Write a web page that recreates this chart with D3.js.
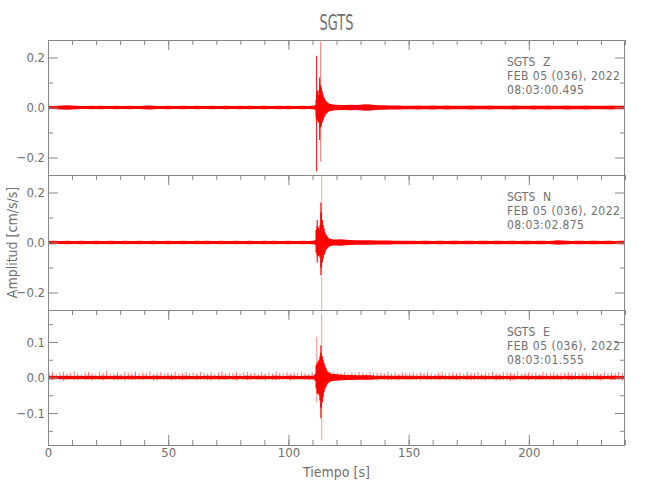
<!DOCTYPE html>
<html>
<head>
<meta charset="utf-8">
<script src="https://cdn.jsdelivr.net/npm/d3@7"></script>
<style>
body { margin: 0; background: #fff; }
text { font-family: "DejaVu Sans", sans-serif; font-stretch: condensed; fill: #707070; }
</style>
</head>
<body>
<div id="chart"></div>
<script>
// ---- data ----
var station = "SGTS";
var channels = ["Z", "N", "E"];
var dateLabel = "FEB 05 (036), 2022";
var startTimes = ["08:03:00.495", "08:03:02.875", "08:03:01.555"];
var yLimits = [0.27, 0.27, 0.19];
var yMajor = [[-0.2, 0, 0.2], [-0.2, 0, 0.2], [-0.1, 0, 0.1]];
var yMinor = [[-0.1, 0.1], [-0.1, 0.1], [-0.15, -0.05, 0.05, 0.15]];
var xMajor = [0, 50, 100, 150, 200];
var xMax = 240;

// half width of the noise band, one value every 2 s (0..240 s)
var zNoise = [.007,.006,.007,.008,.009,.008,
  .007,.006,.006,.007,.006,.007,.006,.006,.007,.006,
  .006,.007,.006,.006,.007,.008,.007,.006,.006,.007,
  .006,.006,.007,.006,.006,.007,.006,.006,.007,.006,
  .006,.007,.006,.006,.007,.006,.007,.006,.006,.007,
  .006,.006,.007,.006,.007,.006,.006,.007,.006,.007,
  .008,.012,.014,.012,.011,.010,.010,.011,.010,.011,
  .013,.012,.010,.009,.009,.008,.008,.008,.007,.007,
  .007,.008,.007,.007,.008,.007,.007,.008,.007,.007,
  .007,.007,.008,.007,.007,.007,.008,.007,.007,.007,
  .007,.008,.007,.007,.007,.008,.007,.007,.008,.007,
  .007,.007,.008,.007,.007,.007,.008,.007,.007,.007,
  .007,.008,.007,.007,.007];
var nNoise = [.006,.007,.006,.006,.007,.006,
  .006,.007,.006,.006,.007,.006,.006,.007,.006,.006,
  .007,.006,.006,.007,.006,.006,.007,.006,.006,.007,
  .006,.006,.007,.006,.006,.007,.006,.007,.006,.006,
  .007,.006,.006,.007,.006,.006,.007,.006,.006,.007,
  .006,.007,.006,.006,.007,.006,.006,.007,.006,.007,
  .008,.012,.014,.012,.012,.013,.011,.010,.009,.009,
  .009,.009,.008,.008,.008,.008,.007,.007,.007,.007,
  .007,.006,.007,.007,.006,.007,.007,.006,.007,.007,
  .006,.007,.007,.006,.007,.007,.006,.007,.007,.006,
  .007,.007,.006,.007,.007,.006,.007,.007,.006,.007,
  .009,.008,.007,.006,.007,.007,.006,.007,.007,.006,
  .007,.007,.006,.007,.007];
var eNoise = [.005,.005,.004,.005,.005,.004,
  .005,.004,.005,.005,.004,.005,.005,.004,.005,.005,
  .004,.005,.005,.004,.005,.004,.005,.005,.004,.005,
  .005,.004,.005,.005,.004,.005,.004,.005,.005,.004,
  .005,.005,.004,.005,.004,.005,.005,.004,.005,.005,
  .004,.005,.005,.004,.005,.005,.004,.005,.005,.005,
  .007,.010,.012,.010,.009,.008,.007,.007,.006,.006,
  .006,.006,.005,.005,.005,.005,.005,.005,.005,.005,
  .005,.004,.005,.005,.004,.005,.005,.004,.005,.005,
  .004,.005,.005,.004,.005,.005,.004,.005,.005,.004,
  .005,.005,.004,.005,.005,.004,.005,.005,.004,.005,
  .005,.004,.005,.005,.004,.005,.005,.004,.005,.005,
  .004,.005,.005,.004,.005];

// event core envelope, one value every 0.4 s from 111.2 s
var zHi = [.01,.03,.065,.05,.07,.09,.08,.065,.05,.04,.032,.026,.022,.018,.016,.014,.013,.012];
var zLo = [-.01,-.04,-.05,-.06,-.055,-.08,-.075,-.06,-.05,-.04,-.032,-.026,-.022,-.018,-.016,-.014,-.013,-.012];
var nHi = [.01,.05,.065,.06,.05,.07,.12,.09,.07,.055,.04,.032,.026,.02,.017,.015,.014,.013];
var nLo = [-.01,-.04,-.05,-.055,-.05,-.06,-.10,-.08,-.065,-.05,-.04,-.03,-.024,-.02,-.017,-.015,-.014,-.013];
var eHi = [.01,.035,.04,.045,.05,.06,.07,.06,.05,.04,.032,.026,.02,.016,.014,.012,.011,.01];
var eLo = [-.01,-.03,-.045,-.045,-.05,-.065,-.085,-.07,-.055,-.04,-.032,-.026,-.02,-.016,-.014,-.012,-.011,-.01];

// single thin peaks: time, top, bottom
var zPeakT = [111.7, 113.0, 113.4], zPeakHi = [0.207, 0.12, 0.263], zPeakLo = [-0.255, -0.13, -0.217];
var nPeakT = [112.0, 113.5, 113.8], nPeakHi = [0.09, 0.16, 0.27], nPeakLo = [-0.08, -0.13, -0.27];
var ePeakT = [111.8, 113.5, 113.8], ePeakHi = [0.115, 0.09, 0.18], ePeakLo = [-0.07, -0.115, -0.177];

// small periodic spikes on the E trace, one every 1.5 s
var eSpikeHi = [
  .012,.015,.010,.014,.016,.011,.013,.017,.012,.010,
  .014,.016,.012,.011,.015,.013,.018,.011,.012,.014,
  .010,.015,.013,.012,.016,.011,.014,.012,.017,.010,
  .013,.015,.011,.014,.012,.016,.010,.013,.015,.012,
  .014,.011,.016,.013,.012,.015,.010,.014,.017,.011,
  .013,.012,.015,.011,.014,.016,.012,.013,.010,.015,
  .012,.014,.011,.016,.013,.012,.015,.011,.014,.013,
  .016,.012,.010,.014,.013,.015,.012,.011,.014,.016,
  .013,.012,.015,.010,.014,.012,.016,.013,.011,.015,
  .012,.014,.013,.011,.016,.012,.014,.010,.015,.013,
  .012,.016,.011,.014,.013,.015,.012,.010,.014,.016,
  .011,.013,.015,.012,.014,.011,.016,.013,.012,.015,
  .010,.014,.013,.016,.012,.011,.015,.013,.014,.012,
  .016,.011,.013,.015,.012,.014,.010,.016,.013,.012,
  .015,.011,.014,.013,.016,.012,.015,.011,.013,.014,
  .012,.016,.013,.011,.015,.012,.014,.013,.016,.012,
  .014];
var eSpikeLo = [
  -.006,-.008,-.005,-.007,-.009,-.006,-.005,-.008,-.007,-.006,
  -.007,-.005,-.009,-.006,-.007,-.008,-.005,-.006,-.008,-.007,
  -.006,-.009,-.005,-.007,-.006,-.008,-.007,-.005,-.006,-.009,
  -.008,-.006,-.007,-.005,-.009,-.006,-.007,-.008,-.005,-.006,
  -.007,-.008,-.006,-.005,-.007,-.009,-.006,-.008,-.005,-.007,
  -.006,-.007,-.009,-.005,-.006,-.008,-.007,-.006,-.008,-.005,
  -.009,-.006,-.007,-.008,-.005,-.007,-.006,-.009,-.006,-.008,
  -.005,-.007,-.008,-.006,-.009,-.005,-.007,-.006,-.008,-.007,
  -.006,-.005,-.008,-.007,-.006,-.009,-.005,-.007,-.008,-.006,
  -.007,-.009,-.006,-.005,-.008,-.007,-.006,-.008,-.005,-.007,
  -.008,-.006,-.007,-.009,-.005,-.006,-.008,-.007,-.006,-.005,
  -.007,-.008,-.006,-.007,-.009,-.005,-.006,-.008,-.007,-.006,
  -.005,-.009,-.007,-.006,-.008,-.005,-.007,-.006,-.009,-.008,
  -.006,-.007,-.005,-.008,-.006,-.009,-.007,-.005,-.006,-.008,
  -.007,-.006,-.009,-.005,-.008,-.007,-.006,-.008,-.005,-.007,
  -.009,-.006,-.007,-.008,-.005,-.006,-.008,-.007,-.006,-.009,
  -.006];

var noise = [zNoise, nNoise, eNoise];
var coreHi = [zHi, nHi, eHi], coreLo = [zLo, nLo, eLo];
var peakT = [zPeakT, nPeakT, ePeakT], peakHi = [zPeakHi, nPeakHi, ePeakHi], peakLo = [zPeakLo, nPeakLo, ePeakLo];
var peakOpacity = [[0.85, 0.9, 0.45], [0.9, 0.9, 0.3], [0.4, 0.9, 0.35]];

// ---- layout ----
var W = 650, H = 500;
var plotLeft = 48, plotRight = 625, plotTop = 40, plotBottom = 445;
var panelH = (plotBottom - plotTop) / 3;
var axisColor = "#888";
var red = "#ff0000";

var svg = d3.select("#chart").append("svg")
  .attr("width", W).attr("height", H);

var x = d3.scaleLinear().domain([0, xMax]).range([plotLeft, plotRight]);
var noiseT = d3.range(0, xMax + 1, 2);
var coreT = d3.range(zHi.length).map(function(i) { return 111.2 + i * 0.4; });
var spikeT = d3.range(eSpikeHi.length).map(function(i) { return i * 1.5 + 0.4; });

function styleAxis(g) {
  g.select(".domain").remove();
  g.selectAll(".tick line").attr("stroke", axisColor);
  g.selectAll("text").style("font-size", "13px").attr("fill", "#707070")
    .attr("font-family", null);
}

channels.forEach(function(ch, p) {
  var y0 = plotTop + p * panelH, y1 = y0 + panelH;
  var y = d3.scaleLinear().domain([-yLimits[p], yLimits[p]]).range([y1, y0]);

  var clipId = "clip" + p;
  svg.append("clipPath").attr("id", clipId)
    .append("rect").attr("x", plotLeft).attr("y", y0).attr("width", plotRight - plotLeft).attr("height", panelH);

  var g = svg.append("g").attr("clip-path", "url(#" + clipId + ")");

  // background noise band
  g.append("path")
    .datum(noise[p])
    .attr("fill", red)
    .attr("d", d3.area()
      .x(function(d, i) { return x(noiseT[i]); })
      .y0(function(d) { return y(-d); })
      .y1(function(d) { return y(d); }));

  // small spikes on E
  if (ch == "E") {
    g.selectAll(".espike")
      .data(eSpikeHi)
      .enter().append("line")
      .attr("class", "espike")
      .attr("x1", function(d, i) { return x(spikeT[i]); })
      .attr("x2", function(d, i) { return x(spikeT[i]); })
      .attr("y1", function(d) { return y(d); })
      .attr("y2", function(d, i) { return y(eSpikeLo[i]); })
      .attr("stroke", red).attr("stroke-width", 1).attr("opacity", 0.55);
  }

  // event envelope, drawn as one vertical stroke per sample
  g.selectAll(".core")
    .data(coreHi[p])
    .enter().append("line")
    .attr("class", "core")
    .attr("x1", function(d, i) { return x(coreT[i]); })
    .attr("x2", function(d, i) { return x(coreT[i]); })
    .attr("y1", function(d) { return y(d); })
    .attr("y2", function(d, i) { return y(coreLo[p][i]); })
    .attr("stroke", red).attr("stroke-width", 1.6);

  g.selectAll(".peak")
    .data(peakT[p])
    .enter().append("line")
    .attr("class", "peak")
    .attr("x1", function(d) { return x(d); })
    .attr("x2", function(d) { return x(d); })
    .attr("y1", function(d, i) { return y(peakHi[p][i]); })
    .attr("y2", function(d, i) { return y(peakLo[p][i]); })
    .attr("stroke", red).attr("stroke-width", 1.2)
    .attr("opacity", function(d, i) { return peakOpacity[p][i]; });

  // frame
  svg.append("rect")
    .attr("x", plotLeft + 0.5).attr("y", y0 + 0.5)
    .attr("width", plotRight - plotLeft - 1).attr("height", panelH)
    .attr("fill", "none").attr("stroke", axisColor);

  // y ticks both sides
  svg.append("g").attr("transform", "translate(" + plotLeft + ",0)")
    .call(d3.axisLeft(y).tickValues(yMajor[p]).tickSize(-10).tickPadding(3)
      .tickFormat(d3.format(".1f")))
    .call(styleAxis);
  svg.append("g").attr("transform", "translate(" + plotLeft + ",0)")
    .call(d3.axisLeft(y).tickValues(yMinor[p]).tickSize(-5).tickFormat(""))
    .call(styleAxis);
  svg.append("g").attr("transform", "translate(" + plotRight + ",0)")
    .call(d3.axisRight(y).tickValues(yMajor[p]).tickSize(-10).tickFormat(""))
    .call(styleAxis);
  svg.append("g").attr("transform", "translate(" + plotRight + ",0)")
    .call(d3.axisRight(y).tickValues(yMinor[p]).tickSize(-5).tickFormat(""))
    .call(styleAxis);

  // x ticks hanging from the top edge
  svg.append("g").attr("transform", "translate(0," + y0 + ")")
    .call(d3.axisTop(x).tickValues(xMajor).tickSize(-10).tickFormat(""))
    .call(styleAxis);
  svg.append("g").attr("transform", "translate(0," + y0 + ")")
    .call(d3.axisTop(x).ticks(24).tickSize(-5).tickFormat(""))
    .call(styleAxis);

  // channel annotation
  var ann = svg.append("g").attr("transform", "translate(507," + y0 + ")")
    .style("font-size", "12px");
  ann.append("text").attr("y", 26).text(station);
  ann.append("text").attr("x", 36).attr("y", 26).text(ch);
  ann.append("text").attr("y", 40).attr("letter-spacing", "0.5px").text(dateLabel);
  ann.append("text").attr("y", 54).attr("letter-spacing", "0.4px").text(startTimes[p]);
});

// bottom time axis
svg.append("g").attr("transform", "translate(0," + plotBottom + ")")
  .call(d3.axisBottom(x).tickValues(xMajor).tickSize(-10).tickPadding(3).tickFormat(d3.format("d")))
  .call(styleAxis);
svg.append("g").attr("transform", "translate(0," + plotBottom + ")")
  .call(d3.axisBottom(x).ticks(24).tickSize(-5).tickFormat(""))
  .call(styleAxis);

// titles
svg.append("text")
  .attr("x", (plotLeft + plotRight) / 2).attr("y", 30)
  .attr("text-anchor", "middle")
  .attr("textLength", 34).attr("lengthAdjust", "spacingAndGlyphs")
  .style("font-size", "21px")
  .text(station);

svg.append("text")
  .attr("x", (plotLeft + plotRight) / 2).attr("y", 477)
  .attr("text-anchor", "middle")
  .style("font-size", "14px")
  .text("Tiempo [s]");

svg.append("text")
  .attr("transform", "translate(17," + ((plotTop + plotBottom) / 2) + ")rotate(-90)")
  .attr("text-anchor", "middle")
  .style("font-size", "14px")
  .text("Amplitud [cm/s/s]");
</script>
</body>
</html>
